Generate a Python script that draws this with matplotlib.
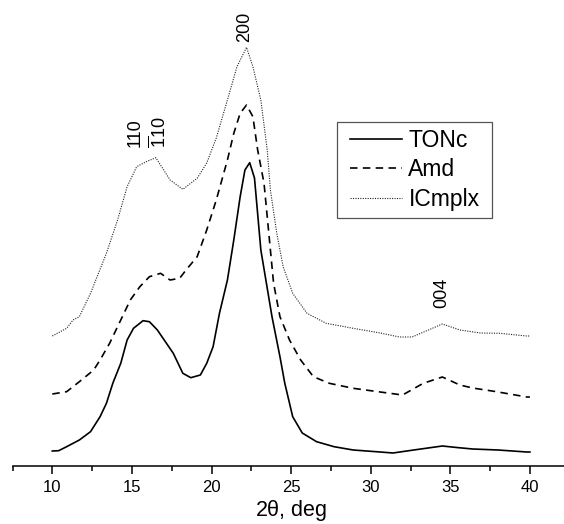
import matplotlib
matplotlib.use("Agg")
import matplotlib.pyplot as plt
from matplotlib.patches import Rectangle
from matplotlib.ticker import MultipleLocator

plt.rcParams["font.family"] = ["Liberation Sans", "DejaVu Sans"]
plt.rcParams["mathtext.fontset"] = "custom"
plt.rcParams["mathtext.rm"] = "Liberation Sans"
plt.rcParams["mathtext.it"] = "Liberation Sans:italic"

# XRD patterns, intensity in arbitrary units (curves offset vertically)
tonc_2theta = [10.0, 10.4, 10.9, 11.7, 12.4, 13.0, 13.4, 13.8, 14.3, 14.7, 15.1, 15.7,
               16.1, 16.6, 17.6, 18.2, 18.7, 19.3, 19.7, 20.1, 20.5, 21.0, 21.4, 21.8,
               22.1, 22.4, 22.7, 23.1, 23.8, 24.3, 24.6, 25.1, 25.7, 26.6, 27.7, 28.9,
               30.6, 31.4, 32.7, 33.6, 34.5, 35.4, 36.4, 38.0, 39.8, 40.0]
tonc_int = [14.7, 15.0, 19.0, 25.7, 34.0, 49.0, 62.4, 82.4, 102.4, 125.7, 137.4, 145.0,
            144.0, 135.7, 112.4, 92.4, 88.0, 90.7, 102.4, 119.0, 152.4, 185.7, 225.7, 269.0,
            295.7, 303.0, 287.7, 215.7, 149.0, 109.0, 82.7, 49.0, 32.7, 24.0, 19.0, 15.7,
            13.7, 12.7, 15.7, 17.7, 19.7, 18.2, 16.7, 15.7, 13.7, 13.7]

amd_2theta = [10.0, 10.9, 11.7, 12.6, 13.0, 13.6, 14.3, 14.9, 15.5, 16.1, 16.8, 17.4,
              18.0, 18.4, 19.1, 19.7, 20.3, 21.0, 21.4, 21.8, 22.2, 22.6, 22.9, 23.3,
              23.6, 23.9, 24.3, 24.9, 25.6, 26.4, 27.4, 28.9, 30.6, 32.0, 33.3, 34.5,
              35.6, 36.4, 37.9, 39.8, 40.0]
amd_int = [71.7, 74.0, 84.0, 95.7, 105.7, 122.4, 145.7, 165.7, 179.0, 189.0, 192.4, 185.7,
           187.4, 195.7, 209.0, 235.7, 265.7, 305.7, 332.4, 352.4, 360.7, 349.0, 315.7, 282.4,
           232.4, 182.4, 149.0, 125.7, 105.7, 89.0, 82.4, 77.4, 73.7, 70.7, 82.4, 88.7,
           80.7, 77.7, 74.0, 68.7, 68.7]

icmplx_2theta = [10.0, 10.9, 11.3, 11.7, 12.4, 13.4, 14.1, 14.7, 15.3, 15.9, 16.5, 17.0,
                 17.4, 18.2, 19.1, 19.7, 20.3, 21.0, 21.6, 22.2, 22.6, 23.1, 23.5, 23.7,
                 24.1, 24.5, 25.1, 26.0, 27.2, 28.9, 30.6, 31.8, 32.6, 34.5, 35.6, 36.9,
                 38.1, 39.8, 40.0]
icmplx_int = [129.7, 137.4, 145.7, 149.0, 172.4, 212.4, 245.7, 279.0, 299.0, 304.0, 308.0, 295.7,
              285.7, 276.4, 287.4, 302.7, 327.7, 365.7, 399.0, 418.4, 399.0, 365.7, 315.7, 275.7,
              232.4, 199.0, 172.4, 152.4, 142.4, 137.4, 132.7, 128.7, 128.7, 141.7, 135.7, 132.7,
              132.4, 129.7, 129.7]

series_names = ["TONc", "Amd", "ICmplx"]

# Miller index annotations: (text, 2theta, intensity)
reflections = [
    ("110", 15.19, 333.0),
    (r"$\mathregular{\overline{1}10}$", 16.70, 333.0),
    ("200", 22.10, 438.7),
    ("004", 34.47, 172.7),
]

W, H = 564, 524
fig = plt.figure(figsize=(W / 100, H / 100), dpi=100)
ax = fig.add_axes([12.5 / W, 1 - 465.7 / H, 557.2 / W, 465.7 / H])

ax.plot(tonc_2theta, tonc_int, color="black", lw=1.2, ls="-", label=series_names[0])
ax.plot(amd_2theta, amd_int, color="black", lw=1.2, ls=(0, (4.5, 3.2)), label=series_names[1])
ax.plot(icmplx_2theta, icmplx_int, color="#222222", lw=0.8, ls=(0, (1, 1.2)), label=series_names[2])

for txt, xv, yv in reflections:
    ax.text(xv, yv, txt, rotation=90, ha="center", va="center", fontsize=13)

ax.set_xlim(7.5, 42.5)
ax.set_ylim(0, 465.7)
for side in ("left", "right", "top"):
    ax.spines[side].set_visible(False)
ax.spines["bottom"].set_linewidth(1.1)
ax.yaxis.set_visible(False)
ax.xaxis.set_major_locator(MultipleLocator(5))
ax.xaxis.set_minor_locator(MultipleLocator(2.5))
ax.tick_params(axis="x", which="major", direction="out", length=6, width=1.1,
               labelsize=12, pad=4)
ax.tick_params(axis="x", which="minor", direction="out", length=3.5, width=1.1)
ax.set_xlabel(r"2$\mathregular{\theta}$, deg", fontsize=15.5, labelpad=2.5)

# legend entries without frame; the box is drawn as a separate rectangle
leg = ax.legend(loc="upper left", bbox_to_anchor=(350 / W, 1 - 129.0 / H),
                bbox_transform=fig.transFigure, borderaxespad=0, fontsize=16.5,
                frameon=False, handlelength=2.25, handletextpad=0.3,
                labelspacing=0.28, borderpad=0)
box = Rectangle((337.3 / W, 1 - 218.3 / H), (491.7 - 337.3) / W, (218.3 - 122.3) / H,
                transform=fig.transFigure, fill=False, edgecolor="#555555", lw=0.9)
fig.add_artist(box)

fig.savefig("out.png", dpi=100)
